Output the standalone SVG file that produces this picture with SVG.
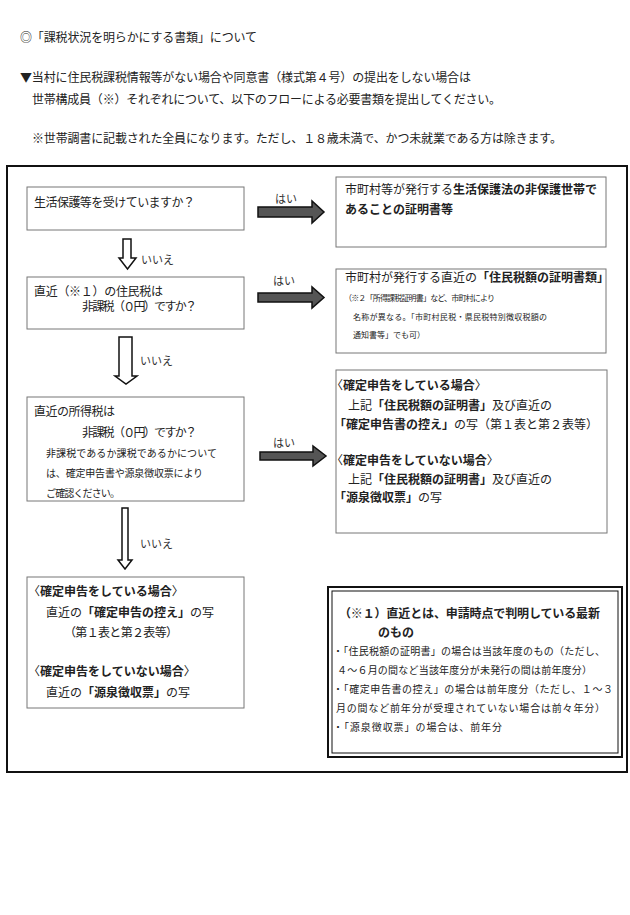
<svg xmlns="http://www.w3.org/2000/svg" width="630" height="915" viewBox="0 0 630 915">
<style>
text{font-family:"Noto Sans CJK JP","Noto Sans",sans-serif;fill:#222;}
.t{font-size:12px;}
.s{font-size:10px;}
.xs{font-size:8px;}
.lab{font-size:11px;fill:#333;}
.b{font-weight:bold;}
.box{fill:#fff;stroke:#777;stroke-width:1;}
.ra{fill:#555;stroke:#111;stroke-width:1.5;stroke-linejoin:miter;}
.da{fill:#fff;stroke:#111;stroke-width:1.5;}
</style>
<rect width="630" height="915" fill="#fff"/>
<g id="header">
<text class="t" x="20" y="42" textLength="237">◎「課税状況を明らかにする書類」について</text>
<text class="t" x="20" y="82" textLength="451">▼当村に住民税課税情報等がない場合や同意書（様式第４号）の提出をしない場合は</text>
<text class="t" x="32" y="104" textLength="469">世帯構成員（※）それぞれについて、以下のフローによる必要書類を提出してください。</text>
<text class="t" x="32" y="143" textLength="530">※世帯調書に記載された全員になります。ただし、１８歳未満で、かつ未就業である方は除きます。</text>
</g>
<rect id="frame" x="7" y="166" width="620" height="606" fill="none" stroke="#111" stroke-width="2"/>
<g id="connectors">
<polygon class="ra" points="258,207 312,207 312,201 324,212 312,223 312,217 258,217"/>
<text class="lab" x="275" y="203">はい</text>
<polygon class="ra" points="258,293 312,293 312,287 324,297.5 312,308 312,302 258,302"/>
<text class="lab" x="273" y="285">はい</text>
<polygon class="ra" points="260,452 313,452 313,446 326,456 313,466 313,460 260,460"/>
<text class="lab" x="273" y="447">はい</text>
<polygon class="da" points="123,239 131,239 131,258 136,258 127.5,269 119,258 123,258"/>
<text class="lab" x="141" y="264">いいえ</text>
<polygon class="da" points="119,337 132,337 132,376 137,376 126,384 115,376 119,376"/>
<text class="lab" x="140" y="365">いいえ</text>
<polygon class="da" points="122,508 128,508 128,560 132,560 125,569 118,560 122,560"/>
<text class="lab" x="140" y="548">いいえ</text>
</g>
<g id="q1">
<rect class="box" x="27" y="187" width="217" height="43"/>
<text class="t" x="34" y="207" textLength="161">生活保護等を受けていますか？</text>
</g>
<g id="q2">
<rect class="box" x="27" y="277" width="217" height="52"/>
<text class="t" x="34" y="296" textLength="129">直近（※１）の住民税は</text>
<text class="t" x="82" y="311" textLength="115">非課税（０円）ですか？</text>
</g>
<g id="q3">
<rect class="box" x="27" y="397" width="217" height="104"/>
<text class="t" x="34" y="416" textLength="81">直近の所得税は</text>
<text class="t" x="82" y="437" textLength="115">非課税（０円）ですか？</text>
<text class="s" x="46" y="457" textLength="171">非課税であるか課税であるかについて</text>
<text class="s" x="46" y="477" textLength="157">は、確定申告書や源泉徴収票により</text>
<text class="s" x="46" y="497" textLength="74">ご確認ください。</text>
</g>
<g id="r4">
<rect class="box" x="27" y="577" width="217" height="131"/>
<text class="t" x="28" y="596"><tspan>〈</tspan><tspan class="b">確定申告をしている場合</tspan><tspan>〉</tspan></text>
<text class="t" x="46" y="617"><tspan>直近の</tspan><tspan class="b">「確定申告の控え」</tspan><tspan>の写</tspan></text>
<text class="t" x="64" y="637" textLength="114">（第１表と第２表等）</text>
<text class="t" x="28" y="676"><tspan>〈</tspan><tspan class="b">確定申告をしていない場合</tspan><tspan>〉</tspan></text>
<text class="t" x="46" y="697"><tspan>直近の</tspan><tspan class="b">「源泉徴収票」</tspan><tspan>の写</tspan></text>
</g>
<g id="r1">
<rect class="box" x="336" y="177" width="270" height="70"/>
<text class="t" x="345" y="194"><tspan>市町村等が発行する</tspan><tspan class="b">生活保護法の非保護世帯で</tspan></text>
<text class="t b" x="345" y="214">あることの証明書等</text>
</g>
<g id="r2">
<rect class="box" x="336" y="269" width="270" height="84"/>
<text class="t" x="345" y="282"><tspan>市町村が発行する直近の</tspan><tspan class="b">「住民税額の証明書類」</tspan></text>
<text class="xs" x="344" y="301" textLength="151">（※２「所得課税証明書」など、市町村により</text>
<text class="xs" x="353" y="320" textLength="194">名称が異なる。「市町村民税・県民税特別徴収税額の</text>
<text class="xs" x="353" y="338" textLength="72">通知書等」でも可）</text>
</g>
<g id="r3">
<rect class="box" x="336" y="370" width="271" height="163"/>
<text class="t" x="331" y="390"><tspan>〈</tspan><tspan class="b">確定申告をしている場合</tspan><tspan>〉</tspan></text>
<text class="t" x="348" y="410"><tspan>上記</tspan><tspan class="b">「住民税額の証明書」</tspan><tspan>及び直近の</tspan></text>
<text class="t" x="334" y="429"><tspan class="b">「確定申告書の控え」</tspan><tspan>の写（第１表と第２表等）</tspan></text>
<text class="t" x="331" y="465"><tspan>〈</tspan><tspan class="b">確定申告をしていない場合</tspan><tspan>〉</tspan></text>
<text class="t" x="348" y="484"><tspan>上記</tspan><tspan class="b">「住民税額の証明書」</tspan><tspan>及び直近の</tspan></text>
<text class="t" x="334" y="502"><tspan class="b">「源泉徴収票」</tspan><tspan>の写</tspan></text>
</g>
<g id="note">
<rect x="328" y="587" width="294" height="170" fill="#fff" stroke="#111" stroke-width="2"/>
<rect x="332" y="591" width="286" height="162" fill="none" stroke="#111" stroke-width="1"/>
<text class="t b" x="339" y="618" textLength="261">（※１）直近とは、申請時点で判明している最新</text>
<text class="t b" x="378" y="637">のもの</text>
<text class="s" x="333" y="655" textLength="272">・「住民税額の証明書」の場合は当該年度のもの（ただし、</text>
<text class="s" x="337" y="674" textLength="255">４～６月の間など当該年度分が未発行の間は前年度分）</text>
<text class="s" x="333" y="693" textLength="280">・「確定申告書の控え」の場合は前年度分（ただし、１～３</text>
<text class="s" x="336" y="712" textLength="269">月の間など前年分が受理されていない場合は前々年分）</text>
<text class="s" x="333" y="731" textLength="169">・「源泉徴収票」の場合は、前年分</text>
</g>
</svg>
